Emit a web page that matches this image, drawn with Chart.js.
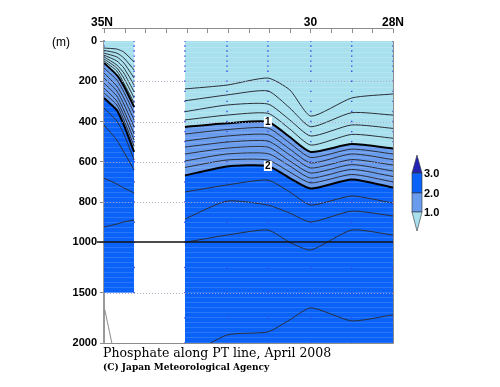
<!DOCTYPE html>
<html>
<head>
<meta charset="utf-8">
<script src="https://cdn.jsdelivr.net/npm/chart.js@4.4.1/dist/chart.umd.min.js"></script>
<style>
  html, body { margin: 0; padding: 0; background: #fff; }
  canvas { display: block; }
</style>
</head>
<body>
<canvas id="phosphate-chart" width="500" height="387"></canvas>
<script>
const leftLat = [35.0, 34.69, 34.52, 34.27];
const leftBottom = 1500;
const leftThinLines = [
  [35, 40, 55, 104],
  [47, 60, 84, 144],
  [60, 79, 109, 184],
  [70, 99, 134, 219],
  [79, 119, 159, 253],
  [89, 134, 184, 283],
  [99, 149, 209, 308],
  [134, 194, 253, 358],
  [159, 224, 283, 392],
  [184, 248, 313, 427],
  [209, 273, 343, 462],
  [234, 298, 368, 492],
  [258, 318, 392, 522],
  [333, 397, 462, 591],
  [417, 492, 551, 641],
  [681, 710, 730, 755],
  [924, 909, 899, 889],
];
const leftLine1 = [109, 169, 224, 328];
const leftLine2 = [283, 343, 417, 551];

const rightLat = [33.04, 32.02, 31.03, 30.5, 29.99, 29.0, 28.0];
const rightBottom = 2000;
const rightThinLines = [
  [238, 219, 184, 243, 373, 283, 263],
  [297, 268, 248, 333, 426, 356, 368],
  [351, 318, 313, 392, 472, 417, 434],
  [392, 368, 359, 437, 517, 464, 483],
  [462, 440, 432, 507, 579, 537, 561],
  [497, 472, 465, 537, 606, 561, 589],
  [527, 502, 497, 566, 631, 589, 616],
  [561, 532, 527, 596, 656, 614, 646],
  [596, 561, 559, 621, 681, 638, 673],
  [628, 591, 591, 651, 705, 663, 700],
  [750, 715, 691, 750, 815, 770, 805],
  [884, 795, 815, 855, 899, 845, 869],
  [1000, 964, 939, 1000, 1076, 939, 964],
  [2150, 1920, 1890, 1770, 1650, 1780, 1720],
];
const rightLine1 = [427, 409, 401, 477, 551, 512, 534];
const rightLine2 = [668, 623, 621, 681, 733, 688, 728];

const greyLat = [34.98, 34.81];
const greyLine = [1670, 2000];

const dotLats = [35.0, 34.27, 33.04, 32.02, 31.03, 29.99, 29.0, 28.0];
const leftSampleDepths = [0, 25, 50, 75, 100, 125, 150, 175, 200, 225, 250, 275, 300, 325, 350, 375, 400, 425, 450, 475, 500, 600, 700, 800, 900, 1000, 1250, 1500];
const rightSampleDepths = [0, 25, 50, 75, 100, 125, 150, 200, 250, 300, 350, 400, 450, 500, 600, 700, 800, 900, 1000, 1250, 1500, 1750, 2000];

const yTickDepths = [0, 200, 400, 600, 800, 1000, 1500, 2000];
const yTickLabels = ["0", "200", "400", "600", "800", "1000", "1500", "2000"];
const gridDepths = [200, 400, 600, 800, 1500];
const topLabelLats = [35, 30, 28];
const topLabels = ["35N", "30", "28N"];
const legendLabels = ["3.0", "2.0", "1.0"];

const COLORS = {
  cyan: "#a8e0ee",
  mid: "#6a9cee",
  deep: "#0a62f8",
  top: "#2424b4",
};

// depth axis is stretched: 0-1000 m takes twice the room of 1000-2000 m
function toY(depth) {
  return depth <= 1000 ? depth : 1000 + (depth - 1000) / 2;
}

function points(lats, depths) {
  return lats.map((lat, i) => ({ x: lat, y: toY(depths[i]) }));
}

function contour(lats, depths, width, color) {
  return {
    data: points(lats, depths),
    borderColor: color,
    borderWidth: width,
    pointRadius: 0,
    tension: 0.2,
    fill: false,
  };
}

function band(lats, depths, bg) {
  return {
    data: points(lats, depths),
    borderWidth: 0,
    borderColor: "transparent",
    backgroundColor: bg,
    pointRadius: 0,
    tension: 0.2,
    fill: { value: 0 },
  };
}

const canvas = document.getElementById("phosphate-chart");
const ctx = canvas.getContext("2d");

function stripes(base, light) {
  const c = document.createElement("canvas");
  c.width = 4;
  c.height = 5;
  const g = c.getContext("2d");
  g.fillStyle = base;
  g.fillRect(0, 0, 4, 5);
  g.fillStyle = light;
  g.fillRect(0, 2, 4, 1);
  return ctx.createPattern(c, "repeat");
}

const cyanFill = stripes(COLORS.cyan, "#b4e6f2");
const midFill = stripes(COLORS.mid, "#7ca8f0");
const deepFill = stripes(COLORS.deep, "#2a78fa");

const dots = {
  data: [
    ...dotLats.slice(0, 2).flatMap((lat) => leftSampleDepths.map((d) => ({ x: lat, y: toY(d) }))),
    ...dotLats.slice(2).flatMap((lat) => rightSampleDepths.map((d) => ({ x: lat, y: toY(d) }))),
  ],
  showLine: false,
  pointStyle: "rect",
  pointRadius: 1,
  pointBorderWidth: 0,
  pointBackgroundColor: "#3a4ee6",
  fill: false,
};

const datasets = [
  contour(leftLat, leftLine1, 2, "#000"),
  contour(leftLat, leftLine2, 2, "#000"),
  contour(rightLat, rightLine1, 2, "#000"),
  contour(rightLat, rightLine2, 2, "#000"),
  ...leftThinLines.map((l) => contour(leftLat, l, 1, "#2a2f38")),
  ...rightThinLines.map((l) => contour(rightLat, l, 1, "#2a2f38")),
  contour(greyLat, greyLine, 1, "#8a8a8a"),
  dots,
  band(leftLat, leftLine1, cyanFill),
  band(rightLat, rightLine1, cyanFill),
  band(leftLat, leftLine2, midFill),
  band(rightLat, rightLine2, midFill),
  band(leftLat, leftLat.map(() => leftBottom), deepFill),
  band(rightLat, rightLat.map(() => rightBottom), deepFill),
];

const overlay = {
  id: "overlay",
  afterDatasetsDraw(chart) {
    const { ctx, chartArea: a, scales } = chart;
    const x = scales.x;
    const y = scales.y;
    ctx.save();

    // dotted depth grid
    ctx.setLineDash([1, 2]);
    ctx.strokeStyle = "rgba(175,160,195,0.85)";
    ctx.lineWidth = 1;
    for (const d of gridDepths) {
      const py = Math.round(y.getPixelForValue(toY(d))) + 0.5;
      ctx.beginPath();
      ctx.moveTo(a.left, py);
      ctx.lineTo(a.right, py);
      ctx.stroke();
    }
    ctx.setLineDash([]);

    // 1000 m line
    const p1000 = Math.round(y.getPixelForValue(1000));
    ctx.strokeStyle = "#111";
    ctx.lineWidth = 1.5;
    ctx.beginPath();
    ctx.moveTo(a.left - 7, p1000);
    ctx.lineTo(a.right, p1000);
    ctx.stroke();

    // frame right / bottom
    ctx.strokeStyle = "#8c8c8c";
    ctx.lineWidth = 1;
    ctx.beginPath();
    ctx.moveTo(a.right + 0.5, a.top);
    ctx.lineTo(a.right + 0.5, a.bottom + 0.5);
    ctx.lineTo(a.left - 2, a.bottom + 0.5);
    ctx.stroke();

    // contour labels on the thick lines
    ctx.font = "bold 10px 'Liberation Sans', Arial, sans-serif";
    ctx.textAlign = "center";
    ctx.textBaseline = "middle";
    [["1", rightLine1], ["2", rightLine2]].forEach(([txt, line]) => {
      const px = x.getPixelForValue(rightLat[2]);
      const py = y.getPixelForValue(toY(line[2]));
      ctx.fillStyle = "#fff";
      ctx.fillRect(px - 4, py - 5, 8, 10);
      ctx.fillStyle = "#000";
      ctx.fillText(txt, px, py + 0.5);
    });
    ctx.restore();
  },
  afterDraw(chart) {
    const { ctx, chartArea: a, scales } = chart;
    const x = scales.x;
    ctx.save();

    // latitude axis along the top
    const axisY = 28.5;
    ctx.strokeStyle = "#8c8c8c";
    ctx.lineWidth = 1;
    ctx.beginPath();
    ctx.moveTo(a.left - 2, axisY);
    ctx.lineTo(a.right, axisY);
    for (let lat = 28; lat <= 35; lat += 0.5) {
      const px = Math.round(x.getPixelForValue(lat)) + 0.5;
      ctx.moveTo(px, axisY);
      ctx.lineTo(px, axisY + 4.5);
    }
    ctx.stroke();

    ctx.fillStyle = "#000";
    ctx.font = "bold 12px 'Liberation Sans', Arial, sans-serif";
    ctx.textAlign = "center";
    ctx.textBaseline = "alphabetic";
    topLabelLats.forEach((lat, i) => {
      ctx.fillText(topLabels[i], x.getPixelForValue(lat) - (i === 0 ? 2 : 0), 26);
    });
    ctx.font = "12px 'Liberation Sans', Arial, sans-serif";
    ctx.fillText("(m)", 61, 46);

    // colour bar
    const cx = 417;
    const w = 5;
    ctx.strokeStyle = "#333";
    ctx.lineWidth = 0.6;
    ctx.fillStyle = COLORS.top;
    ctx.beginPath();
    ctx.moveTo(cx, 155);
    ctx.lineTo(cx + w, 173);
    ctx.lineTo(cx - w, 173);
    ctx.closePath();
    ctx.fill();
    ctx.stroke();
    ctx.fillStyle = COLORS.deep;
    ctx.fillRect(cx - w, 173, 2 * w, 20);
    ctx.strokeRect(cx - w, 173, 2 * w, 20);
    ctx.fillStyle = COLORS.mid;
    ctx.fillRect(cx - w, 193, 2 * w, 19);
    ctx.strokeRect(cx - w, 193, 2 * w, 19);
    ctx.fillStyle = COLORS.cyan;
    ctx.beginPath();
    ctx.moveTo(cx - w, 212);
    ctx.lineTo(cx + w, 212);
    ctx.lineTo(cx, 231);
    ctx.closePath();
    ctx.fill();
    ctx.stroke();

    ctx.fillStyle = "#000";
    ctx.font = "bold 11px 'Liberation Sans', Arial, sans-serif";
    ctx.textAlign = "left";
    ctx.textBaseline = "middle";
    [173, 193, 212].forEach((py, i) => ctx.fillText(legendLabels[i], 424, py + 1));

    // caption
    ctx.textBaseline = "alphabetic";
    ctx.font = "12.5px 'DejaVu Serif', serif";
    ctx.fillText("Phosphate along PT line, April 2008", 103, 357);
    ctx.font = "bold 9px 'DejaVu Serif', serif";
    ctx.fillText("(C) Japan Meteorological Agency", 103, 370);
    ctx.restore();
  },
};

Chart.defaults.font.family = "'Liberation Sans', Arial, sans-serif";

new Chart(ctx, {
  type: "line",
  data: { datasets },
  options: {
    responsive: false,
    animation: false,
    devicePixelRatio: 1,
    layout: { padding: { top: 41, right: 107, bottom: 44, left: 42 } },
    plugins: {
      legend: { display: false },
      tooltip: { enabled: false },
      filler: { drawTime: "beforeDatasetsDraw" },
    },
    scales: {
      x: { type: "linear", min: 28, max: 35, reverse: true, display: false },
      y: {
        type: "linear",
        min: 0,
        max: 1500,
        reverse: true,
        afterBuildTicks: (scale) => {
          scale.ticks = yTickDepths.map((d) => ({ value: toY(d) }));
        },
        afterFit: (scale) => {
          scale.width = 62;
        },
        ticks: {
          autoSkip: false,
          color: "#000",
          padding: 3,
          font: { size: 11, weight: "bold" },
          callback: (value, index) => yTickLabels[index],
        },
        grid: { drawOnChartArea: false, tickLength: 4, color: "#888" },
        border: { color: "#999", width: 2 },
      },
    },
  },
  plugins: [overlay],
});
</script>
</body>
</html>
